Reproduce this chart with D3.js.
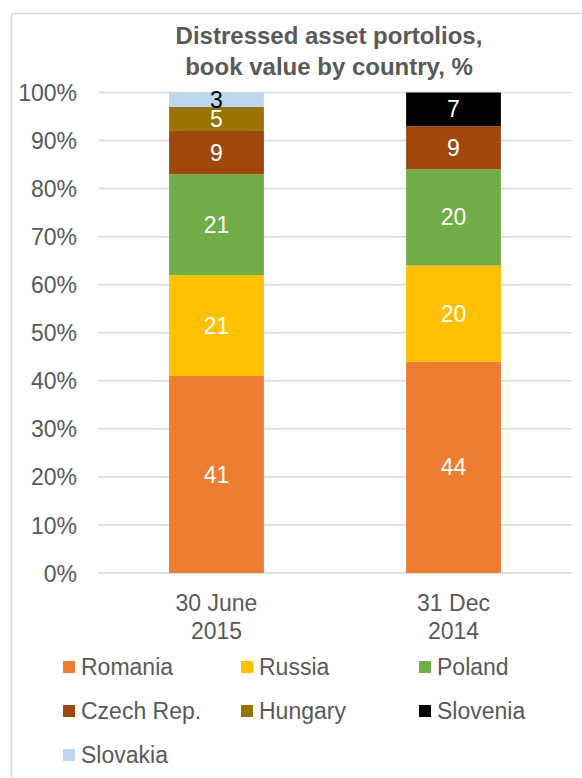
<!DOCTYPE html>
<html><head><meta charset="utf-8">
<script src="https://cdn.jsdelivr.net/npm/d3@7"></script>
<style>body{margin:0;background:#fff}svg{display:block;font-family:"Liberation Sans",Arial,sans-serif}</style>
</head><body><svg id="c" width="582" height="778"></svg>
<script>
const categories = ["30 June 2015", "31 Dec 2014"];
const categoryLines = [["30 June", "2015"], ["31 Dec", "2014"]];
const seriesNames = ["Romania", "Russia", "Poland", "Czech Rep.", "Hungary", "Slovenia", "Slovakia"];
const romania = [41, 44];
const russia = [21, 20];
const poland = [21, 20];
const czech = [9, 9];
const hungary = [5, 0];
const slovenia = [0, 7];
const slovakia = [3, 0];
const yTicks = [0, 10, 20, 30, 40, 50, 60, 70, 80, 90, 100];
const colors = ["#ED7D31", "#FFC000", "#70AD47", "#9E480E", "#997300", "#000000", "#BDD7EE"];
const labelColors = ["#fff", "#fff", "#fff", "#fff", "#fff", "#fff", "#000"];

const seriesValues = [romania, russia, poland, czech, hungary, slovenia, slovakia];
const table = categories.map((c, i) => {
  const row = {cat: c, idx: i};
  seriesNames.forEach((s, j) => row[s] = seriesValues[j][i]);
  return row;
});

const svg = d3.select("#c");
const textCol = "#595959";
const grid = "#d9d9d9";

// chart border
svg.append("rect").attr("x", 11.5).attr("y", 13.5).attr("width", 700).attr("height", 900)
  .attr("fill", "none").attr("stroke", grid).attr("stroke-width", 1.5);

// title
const title = svg.append("text").attr("x", 329).attr("text-anchor", "middle")
  .attr("fill", textCol).attr("font-weight", "bold").attr("font-size", 24);
title.append("tspan").attr("x", 329).attr("y", 44).text("Distressed asset portolios,");
title.append("tspan").attr("x", 329).attr("y", 75).text("book value by country, %");

const x = d3.scaleBand().domain(categories).range([98, 572]).paddingInner(0.6).paddingOuter(0.3);
const y = d3.scaleLinear().domain([0, 100]).range([573, 92.5]);

// gridlines
svg.append("g").selectAll("line").data(yTicks).join("line")
  .attr("x1", 98).attr("x2", 572)
  .attr("y1", d => y(d)).attr("y2", d => y(d))
  .attr("stroke", grid).attr("stroke-width", 1.5);

// y axis labels
const yAxis = d3.axisLeft(y).tickValues(yTicks).tickFormat(d => d + "%").tickSize(0).tickPadding(0);
const ya = svg.append("g").attr("transform", "translate(77,0)").call(yAxis);
ya.select(".domain").remove();
ya.selectAll("text").attr("font-size", 23).attr("fill", textCol)
  .attr("font-family", '"Liberation Sans",Arial,sans-serif').attr("dy", "0.35em");

// bars
const stack = d3.stack().keys(seriesNames)(table);
const layers = svg.append("g").selectAll("g").data(stack).join("g")
  .attr("fill", (d, i) => colors[i]);
layers.selectAll("rect").data(d => d).join("rect")
  .attr("x", d => x(d.data.cat))
  .attr("width", x.bandwidth())
  .attr("y", d => y(d[1]))
  .attr("height", d => y(d[0]) - y(d[1]));

// labels
const lab = svg.append("g");
stack.forEach((layer, i) => {
  layer.forEach(d => {
    const v = d[1] - d[0];
    if (v <= 0) return;
    lab.append("text")
      .attr("x", x(d.data.cat) + x.bandwidth() / 2)
      .attr("y", (y(d[0]) + y(d[1])) / 2)
      .attr("dy", "0.35em")
      .attr("text-anchor", "middle")
      .attr("font-size", 23)
      .attr("fill", labelColors[i])
      .text(v);
  });
});

// x axis labels
const xl = svg.append("g");
categories.forEach((c, i) => {
  const t = xl.append("text").attr("text-anchor", "middle").attr("fill", textCol).attr("font-size", 23);
  categoryLines[i].forEach((ln, k) => {
    t.append("tspan").attr("x", x(c) + x.bandwidth() / 2).attr("y", 611 + k * 28).text(ln);
  });
});

// legend
const legX = [63, 241, 419];
const legY = [667, 711, 755];
const leg = svg.append("g");
seriesNames.forEach((s, i) => {
  const cx = legX[i % 3], cy = legY[Math.floor(i / 3)];
  leg.append("rect").attr("x", cx).attr("y", cy - 6).attr("width", 12).attr("height", 12).attr("fill", colors[i]);
  leg.append("text").attr("x", cx + 18).attr("y", cy).attr("dy", "0.35em")
    .attr("font-size", 23).attr("fill", textCol).text(s);
});
</script></body></html>
